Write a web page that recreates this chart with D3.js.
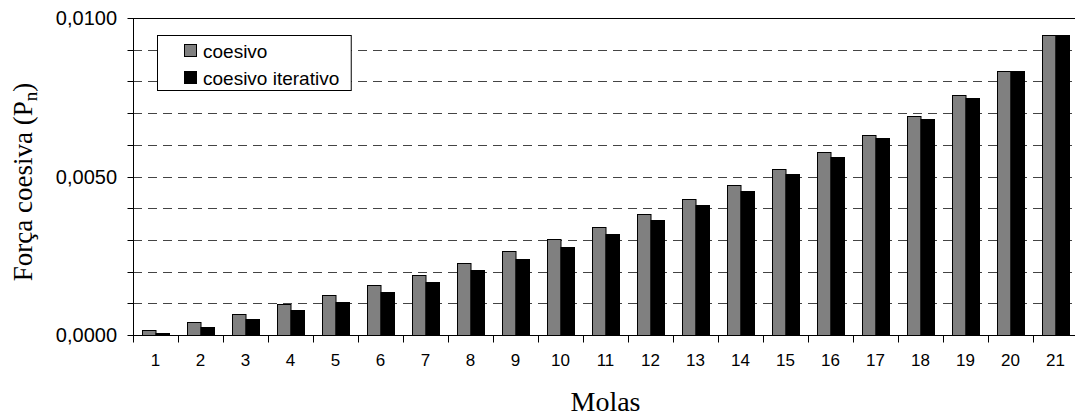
<!DOCTYPE html>
<html>
<head>
<meta charset="utf-8">
<script src="https://cdn.jsdelivr.net/npm/d3@7/dist/d3.min.js"></script>
<style>
  html, body { margin: 0; padding: 0; background: #fff; }
  svg { display: block; }
</style>
</head>
<body>
<svg id="chart" width="1075" height="420"></svg>
<script>
const categories = ["1","2","3","4","5","6","7","8","9","10","11","12","13","14","15","16","17","18","19","20","21"];
const seriesNames = ["coesivo", "coesivo iterativo"];
const coesivo = [0.000148, 0.00041, 0.00067, 0.00098, 0.00127, 0.00157, 0.00189, 0.00227, 0.00264, 0.00303, 0.00342, 0.00382, 0.00428, 0.00474, 0.00523, 0.00576, 0.00630, 0.00692, 0.00758, 0.00834, 0.00947];
const coesivoIterativo = [0.000054, 0.000252, 0.000515, 0.00078, 0.00105, 0.00135, 0.00168, 0.00205, 0.00241, 0.00277, 0.00320, 0.00363, 0.00409, 0.00455, 0.00508, 0.00560, 0.00620, 0.00682, 0.00749, 0.00832, 0.00947];
const yTickLabels = ["0,0000", "0,0050", "0,0100"];
const yLabelValues = [0, 0.005, 0.01];
const gridValues = [0.001,0.002,0.003,0.004,0.005,0.006,0.007,0.008,0.009];
const seriesColors = ["#808080", "#000000"];

const svg = d3.select("#chart");
const pLeft = 133, pRight = 1078, pTop = 18, pBottom = 335;

const x = d3.scaleBand().domain(categories).range([pLeft, pRight]).paddingInner(0.4).paddingOuter(0.2);
const xs = d3.scaleBand().domain(seriesNames).range([0, x.bandwidth()]);
const y = d3.scaleLinear().domain([0, 0.01]).range([pBottom, pTop]);

// gridlines
svg.append("g").selectAll("line").data(gridValues).join("line")
  .attr("x1", pLeft).attr("x2", pRight)
  .attr("y1", d => Math.round(y(d)) + 0.5).attr("y2", d => Math.round(y(d)) + 0.5)
  .attr("stroke", "#444").attr("stroke-width", 1).attr("stroke-dasharray", "9,6");

// top border
svg.append("line").attr("x1", pLeft).attr("x2", pRight)
  .attr("y1", pTop + 0.5).attr("y2", pTop + 0.5).attr("stroke", "#000").attr("stroke-width", 1);

// bars
const data = categories.map((c, i) => ({c, vals: [coesivo[i], coesivoIterativo[i]]}));
const groups = svg.append("g").selectAll("g").data(data).join("g")
  .attr("transform", d => `translate(${x(d.c)},0)`);
groups.selectAll("rect").data(d => d.vals.map((v, j) => ({v, s: seriesNames[j], j}))).join("rect")
  .attr("x", d => xs(d.s) + 0.5)
  .attr("y", d => Math.round(y(d.v)) + 0.5)
  .attr("width", xs.bandwidth())
  .attr("height", d => pBottom - Math.round(y(d.v)))
  .attr("fill", d => seriesColors[d.j])
  .attr("stroke", "#000").attr("stroke-width", 1);

// y axis
const yAxis = d3.axisLeft(y).tickValues(d3.range(0, 11).map(i => i * 0.001)).tickSize(6).tickFormat("");
const gy = svg.append("g").attr("transform", `translate(${pLeft + 0.5},0)`).call(yAxis);
gy.selectAll("path, line").attr("stroke", "#000");
gy.select(".domain").attr("d", `M0,${pTop}V${pBottom + 0.5}`);
gy.selectAll(".tick").attr("transform", d => `translate(0,${Math.round(y(d)) + 0.5})`);

svg.append("g").selectAll("text").data(yLabelValues).join("text")
  .attr("x", 117).attr("y", d => y(d)).attr("dy", "0.35em")
  .attr("text-anchor", "end")
  .attr("font-family", "Liberation Sans, Arial, sans-serif").attr("font-size", 20)
  .text((d, i) => yTickLabels[i]);

// x axis
const gx = svg.append("g").attr("transform", `translate(0,${pBottom + 0.5})`);
gx.append("line").attr("x1", pLeft).attr("x2", pRight).attr("stroke", "#000");
const boundaries = categories.map(c => x(c) - x.step() * 0.2);
boundaries.push(pRight);
gx.selectAll("line.tick").data(boundaries).join("line").attr("class", "tick")
  .attr("x1", d => Math.round(d) + 0.5).attr("x2", d => Math.round(d) + 0.5)
  .attr("y1", 0).attr("y2", 7).attr("stroke", "#000");
gx.selectAll("text").data(categories).join("text")
  .attr("x", d => x(d) + x.bandwidth() / 2).attr("y", 30)
  .attr("text-anchor", "middle")
  .attr("font-family", "Liberation Sans, Arial, sans-serif").attr("font-size", 17)
  .text(d => d);

// axis titles
svg.append("text").attr("x", (pLeft + pRight) / 2).attr("y", 411)
  .attr("text-anchor", "middle")
  .attr("font-family", "Liberation Serif, Times New Roman, serif").attr("font-size", 28)
  .text("Molas");

const yt = svg.append("text")
  .attr("transform", `translate(32,182) rotate(-90)`)
  .attr("text-anchor", "middle")
  .attr("font-family", "Liberation Serif, Times New Roman, serif").attr("font-size", 27);
yt.append("tspan").text("Força coesiva (P");
yt.append("tspan").attr("font-size", 19).attr("dy", 5).text("n");
yt.append("tspan").attr("dy", -5).text(")");

// legend
const lg = svg.append("g");
const lbox = lg.append("rect").attr("x", 157.5).attr("y", 35.5).attr("height", 55)
  .attr("fill", "#fff").attr("stroke", "#000").attr("stroke-width", 1);
let maxW = 0;
seriesNames.forEach((s, i) => {
  const cy = 51 + i * 27;
  lg.append("rect").attr("x", 184.5).attr("y", cy - 6.5).attr("width", 12).attr("height", 12)
    .attr("fill", seriesColors[i]).attr("stroke", "#000").attr("stroke-width", 1);
  const t = lg.append("text").attr("x", 203).attr("y", cy).attr("dy", "0.35em")
    .attr("font-family", "Liberation Sans, Arial, sans-serif").attr("font-size", 19)
    .text(s);
  maxW = Math.max(maxW, t.node().getComputedTextLength());
});
lbox.attr("width", 203 + maxW + 12 - 157.5);
</script>
</body>
</html>
